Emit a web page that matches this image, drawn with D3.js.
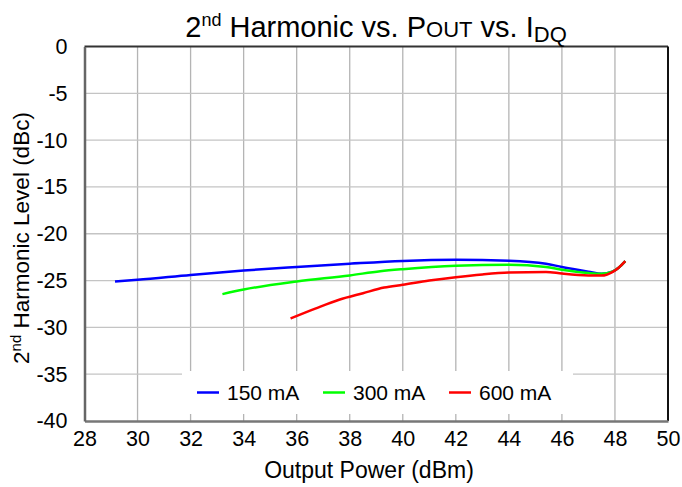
<!DOCTYPE html>
<html><head><meta charset="utf-8">
<script src="https://cdn.jsdelivr.net/npm/d3@7"></script>
<style>body{margin:0;background:#fff}svg{display:block;font-family:Arial,"Liberation Sans",sans-serif}</style>
</head><body><svg id="c" width="682" height="487"></svg>
<script>
const xTicks = [28,30,32,34,36,38,40,42,44,46,48,50];
const yTicks = [0,-5,-10,-15,-20,-25,-30,-35,-40];
const seriesNames = ["150 mA","300 mA","600 mA"];
const seriesColors = ["#0000ff","#00ff00","#ff0000"];
const s150 = [[29.15,-25.1],[30,-24.92],[32,-24.4],[34,-23.93],[36,-23.55],[38,-23.2],[40,-22.9],[42,-22.78],[44,-22.88],[45.4,-23.2],[46,-23.55],[47,-24.05],[47.5,-24.28],[47.9,-24.05],[48.15,-23.6],[48.39,-22.93]];
const s300 = [[33.2,-26.45],[34,-25.96],[36,-25.1],[38,-24.45],[39.15,-24.0],[40,-23.78],[42,-23.42],[44,-23.32],[45.4,-23.55],[46,-23.85],[47,-24.2],[47.5,-24.28],[47.9,-24.05],[48.15,-23.6],[48.39,-22.93]];
const s600 = [[35.77,-29.05],[36.7,-28.0],[37.6,-27.05],[38.5,-26.35],[39.3,-25.75],[40,-25.45],[41,-25.0],[42,-24.64],[43,-24.35],[44,-24.15],[45.4,-24.08],[46,-24.25],[47,-24.45],[47.5,-24.47],[47.9,-24.1],[48.15,-23.6],[48.39,-22.93]];
const seriesData = [s150, s300, s600];

const svg = d3.select("#c");
const L=84.5, R=668, T=46.5, B=421;
const x = d3.scaleLinear().domain([28,50]).range([L,R]);
const y = d3.scaleLinear().domain([-40,0]).range([B,T]);

svg.append("g").selectAll("line").data(xTicks.slice(1,-1)).join("line")
  .attr("x1",d=>x(d)).attr("x2",d=>x(d)).attr("y1",T).attr("y2",B)
  .attr("stroke","#b4b4b4").attr("stroke-width",1.3);
svg.append("g").selectAll("line").data(yTicks.slice(1,-1)).join("line")
  .attr("x1",L).attr("x2",R).attr("y1",d=>y(d)).attr("y2",d=>y(d))
  .attr("stroke","#c4c4c4").attr("stroke-width",1.3);

svg.append("line").attr("x1",L).attr("x2",R).attr("y1",T).attr("y2",T).attr("stroke","#333").attr("stroke-width",2);
svg.append("line").attr("x1",R).attr("x2",R).attr("y1",T).attr("y2",B).attr("stroke","#111").attr("stroke-width",2);

const xa = svg.append("g").attr("transform",`translate(0,${B})`)
  .call(d3.axisBottom(x).tickValues(xTicks).tickSize(0).tickPadding(10));
xa.select(".domain").attr("stroke","#777").attr("stroke-width",2.5);
xa.selectAll("text").attr("font-size",21.5).attr("fill","#000").attr("font-family","Arial, 'Liberation Sans', sans-serif");
const ya = svg.append("g").attr("transform",`translate(${L},0)`)
  .call(d3.axisLeft(y).tickValues(yTicks).tickSize(0).tickPadding(17).tickFormat(d3.format("d")));
ya.select(".domain").attr("stroke","#666").attr("stroke-width",2.5);
ya.selectAll("text").attr("font-size",21.5).attr("fill","#000").attr("font-family","Arial, 'Liberation Sans', sans-serif");
ya.selectAll(".tick text").text(d=>String(d));

const lg = svg.append("g");
lg.append("rect").attr("x",182).attr("y",371).attr("width",391).attr("height",43).attr("fill","#fff");
const legX = [197,323,449];
seriesNames.forEach((n,i)=>{
  lg.append("line").attr("x1",legX[i]).attr("x2",legX[i]+22).attr("y1",392.5).attr("y2",392.5)
    .attr("stroke",seriesColors[i]).attr("stroke-width",2.5);
  lg.append("text").attr("x",legX[i]+30).attr("y",400).attr("font-size",21).text(n);
});

const line = d3.line().x(d=>x(d[0])).y(d=>y(d[1])).curve(d3.curveMonotoneX);
seriesData.forEach((s,i)=>{
  svg.append("path").datum(s).attr("d",line).attr("fill","none")
    .attr("stroke",seriesColors[i]).attr("stroke-width",2.5).attr("stroke-linejoin","round");
});

const t = svg.append("text").attr("x",376).attr("y",37).attr("text-anchor","middle").attr("font-size",29);
t.append("tspan").text("2");
t.append("tspan").attr("font-size",18).attr("dy",-11).text("nd");
t.append("tspan").attr("dy",11).text(" Harmonic vs. P");
t.append("tspan").attr("font-size",22).text("OUT");
t.append("tspan").text(" vs. I");
t.append("tspan").attr("font-size",22).attr("dy",5).text("DQ");

svg.append("text").attr("x",369).attr("y",478).attr("text-anchor","middle").attr("font-size",23).text("Output Power (dBm)");
const yt = svg.append("text").attr("transform","translate(29,238) rotate(-90)").attr("text-anchor","middle").attr("font-size",22.5);
yt.append("tspan").text("2");
yt.append("tspan").attr("font-size",15).attr("dy",-8).text("nd");
yt.append("tspan").attr("dy",8).text(" Harmonic Level (dBc)");
</script></body></html>
